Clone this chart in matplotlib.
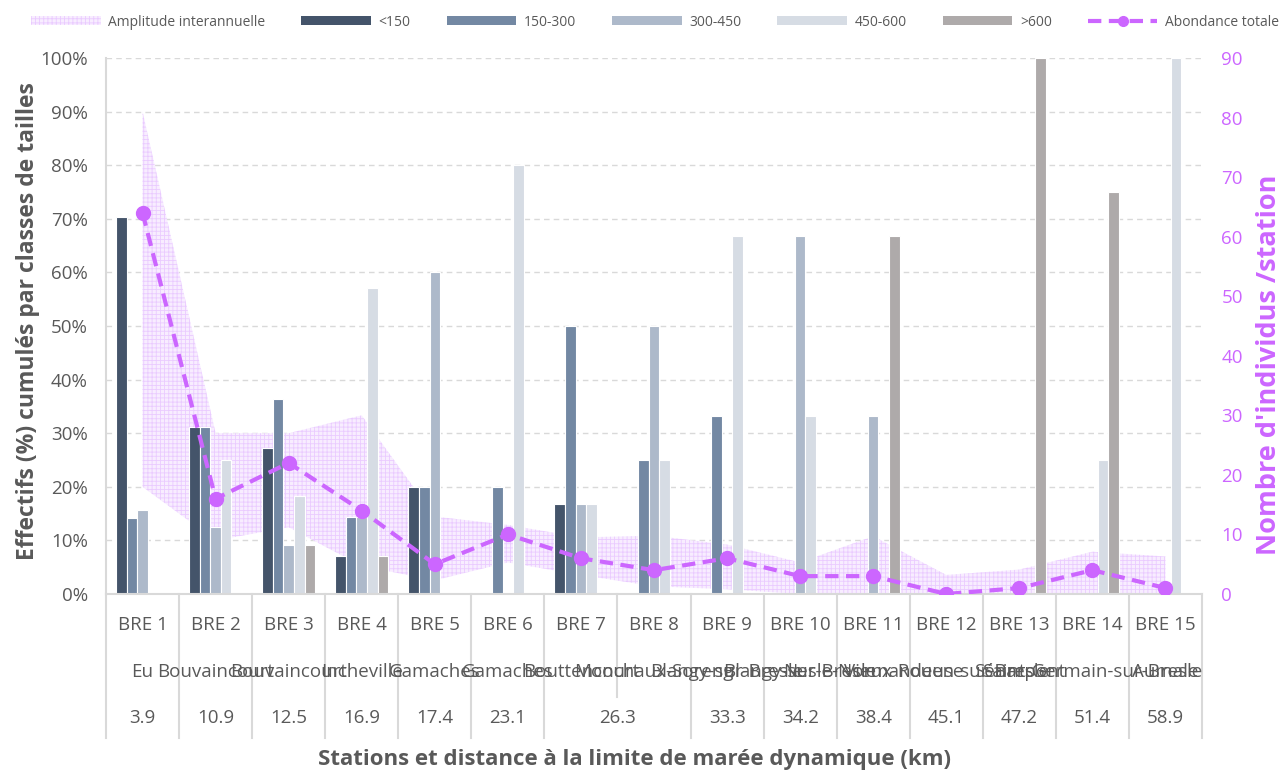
import matplotlib as mpl
mpl.use('Agg')
import matplotlib.pyplot as plt
from matplotlib.patches import Patch
from matplotlib.lines import Line2D

plt.rcParams['font.family'] = ['Open Sans', 'DejaVu Sans']
plt.rcParams['hatch.linewidth'] = 0.6

stations = ['BRE %d' % i for i in range(1, 16)]
sites = ['Eu', 'Bouvaincourt', 'Bouvaincourt', 'Incheville', 'Gamaches', 'Gamaches',
         'Bouttencourt', 'Monchaux-Soreng', 'Blangy-sur-Bresle', 'Blangy-sur-Bresle',
         'Nesle-Normandeuse', 'Vieux-Rouen-sur-Bresle', 'Sénarpont',
         'Saint-Germain-sur-Bresle', 'Aumale']
distances = ['3.9', '10.9', '12.5', '16.9', '17.4', '23.1', '26.3',
             '33.3', '34.2', '38.4', '45.1', '47.2', '51.4', '58.9']
distance_span = [1, 1, 1, 1, 1, 1, 2, 1, 1, 1, 1, 1, 1, 1]

classes = ['<150', '150-300', '300-450', '450-600', '>600']
pct_lt150 = [70.3, 31.25, 27.3, 7.1, 20, 0, 16.7, 0, 0, 0, 0, 0, 0, 0, 0]
pct_150_300 = [14.1, 31.25, 36.4, 14.3, 20, 20, 50, 25, 33.3, 0, 0, 0, 0, 0, 0]
pct_300_450 = [15.6, 12.5, 9.1, 14.3, 60, 0, 16.7, 50, 0, 66.7, 33.3, 0, 0, 0, 0]
pct_450_600 = [0, 25, 18.2, 57.1, 0, 80, 16.7, 25, 66.7, 33.3, 0, 0, 0, 25, 100]
pct_gt600 = [0, 0, 9.1, 7.1, 0, 0, 0, 0, 0, 0, 66.7, 0, 100, 75, 0]

abundance = [64, 16, 22, 14, 5, 10, 6, 4, 6, 3, 3, 0, 1, 4, 1]
amp_high = [81, 27, 27, 30, 13, 11.6, 9.5, 9.8, 8.3, 5.3, 9.7, 3.2, 4.1, 7.1, 6.3]
amp_low = [18, 9, 11.2, 4.7, 2.3, 5.3, 3.2, 1.3, 0.8, 0, 0, 0, 0, 0, 0]

colors = ['#44546A', '#7388A3', '#ADB9CA', '#D6DCE4', '#AEAAAA']
violet = '#CC66FF'
grey = '#595959'
line_grey = '#D9D9D9'
band_face = '#F8EDFF'
band_hatch = '#EACBFF'

fig = plt.figure(figsize=(12.82, 7.74), dpi=100)
ax = fig.add_axes([106 / 1282, 1 - 594 / 774, 1096 / 1282, 536 / 774])
ax2 = ax.twinx()

n = len(stations)
x = list(range(n))
series = [pct_lt150, pct_150_300, pct_300_450, pct_450_600, pct_gt600]
bw = 0.145
for k, (vals, c) in enumerate(zip(series, colors)):
    xs = [i + (k - 2) * bw for i in x]
    ax.bar(xs, vals, width=bw, color=c, edgecolor='white', linewidth=0.8, zorder=2)

# interannual range, in right-axis units but drawn behind the bars
ax.fill_between(x, amp_low, amp_high, transform=ax2.transData, facecolor=band_face,
                edgecolor=band_hatch, hatch='++++', linewidth=0, zorder=1)

ax2.plot(x, abundance, color=violet, ls=(0, (3.2, 1.8)), lw=3, marker='o', ms=10,
         zorder=3)

ax.set_xlim(-0.5, n - 0.5)
ax.set_ylim(0, 100)
ax2.set_ylim(0, 90)
ax.set_yticks(range(0, 101, 10))
ax.set_yticklabels(['%d%%' % v for v in range(0, 101, 10)])
ax2.set_yticks(range(0, 91, 10))
ax.set_xticks([])
ax.yaxis.grid(True, ls=(0, (4, 3)), color=line_grey, lw=1)
ax.set_axisbelow(True)
ax.tick_params(axis='y', length=0, pad=13, labelsize=13.5, labelcolor=grey)
ax2.tick_params(axis='y', length=0, pad=14, labelsize=13.5, labelcolor=violet)
for s in ['top', 'right']:
    ax.spines[s].set_visible(False)
    ax2.spines[s].set_visible(False)
ax2.spines['left'].set_visible(False)
ax2.spines['bottom'].set_visible(False)
ax.spines['left'].set_color(line_grey)
ax.spines['bottom'].set_color(line_grey)
ax.spines['left'].set_linewidth(1.5)
ax.spines['bottom'].set_linewidth(1.5)

# multi-level category labels
tr = ax.get_xaxis_transform()
y_bre, y_site, y_dist = -31 / 536, -78 / 536, -124 / 536
y_mid, y_end = -103 / 536, -144 / 536
for i in x:
    ax.text(i, y_bre, stations[i], transform=tr, ha='center', va='center',
            fontsize=13.5, color=grey)
    ax.text(i, y_site, sites[i], transform=tr, ha='center', va='center',
            fontsize=13.5, color=grey)
start = 0
dist_edges = [-0.5]
for lab, span in zip(distances, distance_span):
    ax.text(start + (span - 1) / 2, y_dist, lab, transform=tr, ha='center',
            va='center', fontsize=13.5, color=grey)
    start += span
    dist_edges.append(start - 0.5)
for b in range(n + 1):
    xb = b - 0.5
    y0 = y_end if xb in dist_edges else y_mid
    ax.plot([xb, xb], [0, y0], transform=tr, color=line_grey, lw=1.5,
            clip_on=False)

fig.text(28 / 1282, 1 - 321 / 774, 'Effectifs (%) cumulés par classes de tailles',
         rotation=90, ha='center', va='center', fontsize=16.5, fontweight='bold',
         color=grey)
fig.text(1269 / 1282, 1 - 365 / 774, "Nombre d'individus /station", rotation=90,
         ha='center', va='center', fontsize=19.5, fontweight='bold', color=violet)
fig.text(635 / 1282, 1 - 760 / 774,
         'Stations et distance à la limite de marée dynamique (km)',
         ha='center', va='center', fontsize=16, fontweight='bold', color=grey)

handles = [Patch(facecolor=band_face, edgecolor=band_hatch, hatch='++++', lw=0)]
handles += [Patch(facecolor=c, edgecolor='none') for c in colors]
handles.append(Line2D([], [], color=violet, ls=(0, (3.2, 1.8)), lw=3, marker='o',
                      ms=7))
labels = ['Amplitude interannuelle'] + classes + ['Abondance totale']
fig.legend(handles, labels, loc='center', bbox_to_anchor=(655 / 1282, 1 - 22 / 774),
           ncol=7, frameon=False, fontsize=10, handlelength=5.0,
           handleheight=0.6, handletextpad=0.55, columnspacing=2.6,
           labelcolor=grey)

fig.savefig('out.png', dpi=100)
